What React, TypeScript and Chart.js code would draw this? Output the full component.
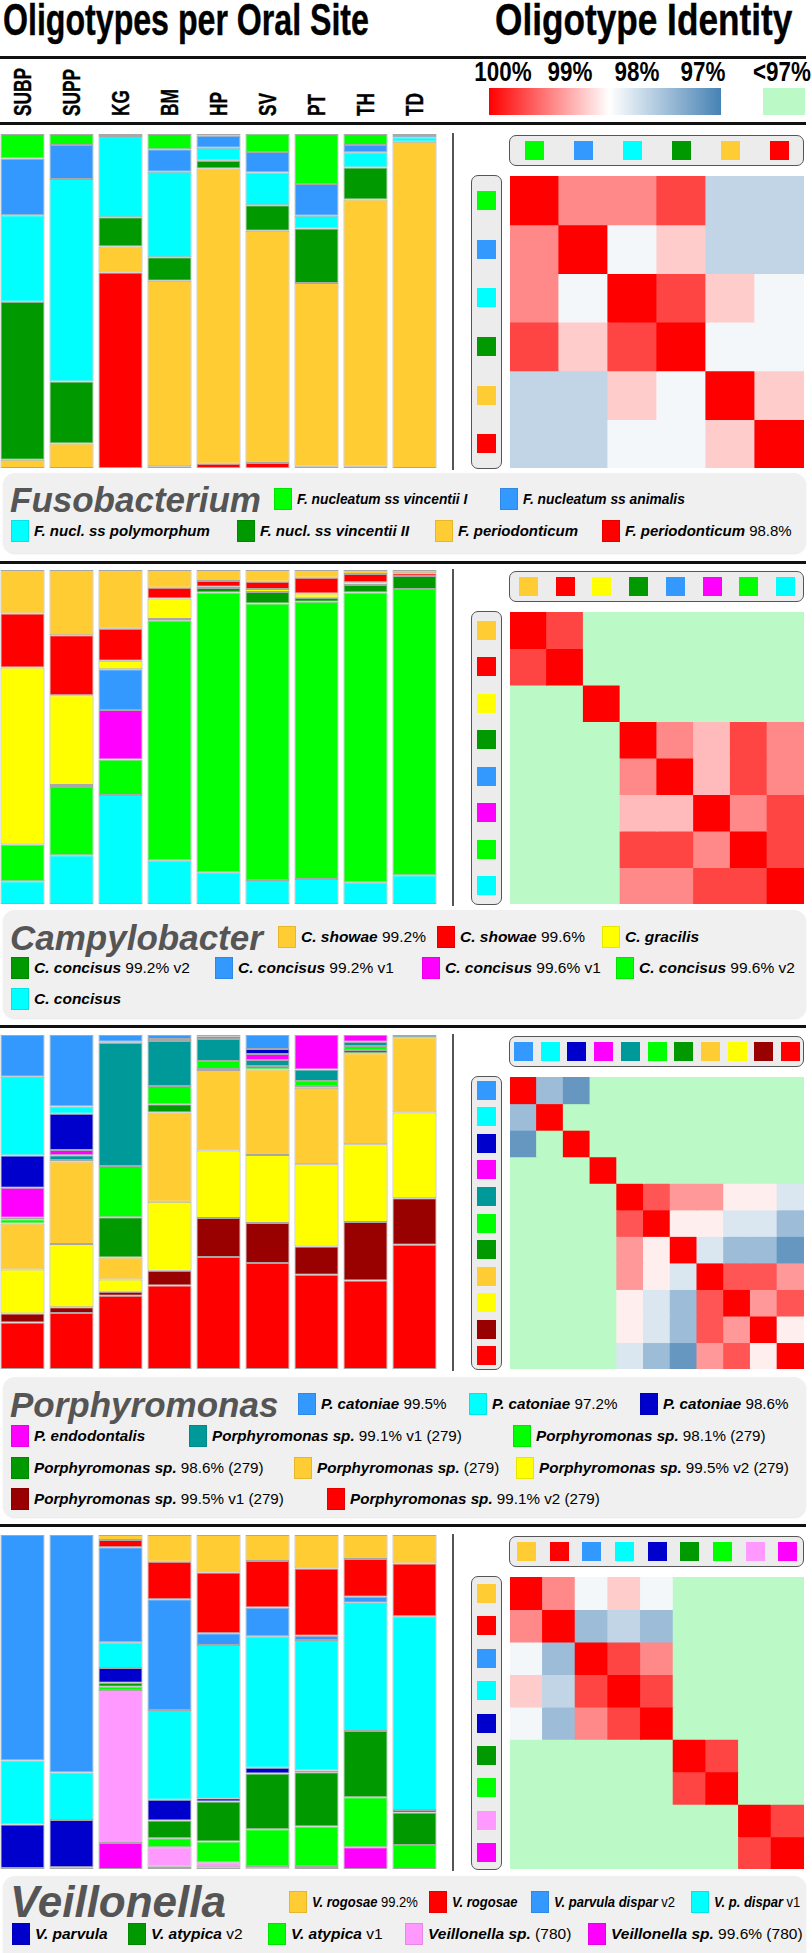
import React, { useEffect, useRef } from 'react';
import { Chart, registerables } from 'chart.js';
Chart.register(...registerables);

const SANS = '"Liberation Sans", Arial, Helvetica, sans-serif';

const SITES = ['SUBP', 'SUPP', 'KG', 'BM', 'HP', 'SV', 'PT', 'TH', 'TD'];

const GREEN = '#00ff00', BLUE = '#3399ff', CYAN = '#00ffff', DKGREEN = '#009900', ORANGE = '#ffcc33',
  RED = '#ff0000', YELLOW = '#ffff00', MAGENTA = '#ff00ff', DKBLUE = '#0000cc', TEAL = '#009999',
  DKRED = '#990000', PINK = '#ff99ff';
const BELOW97 = '#bbf9c6';

// identity scale ticks
const identityTicks = ['100%', '99%', '98%', '97%'];

// ---------------- Fusobacterium ----------------
const fusoNames = ['F. nucleatum ss vincentii I', 'F. nucleatum ss animalis', 'F. nucl. ss polymorphum', 'F. nucl. ss vincentii II', 'F. periodonticum', 'F. periodonticum'];
const fusoSuffix = ['', '', '', '', '', '98.8%'];
const fusoColors = [GREEN, BLUE, CYAN, DKGREEN, ORANGE, RED];
// % per site (SUBP..TD), top of stack first
const fusoValues = [
  [7.3, 3.3, 0, 4.6, 0.5, 5.5, 15.0, 3.3, 0.3],
  [17.0, 10.2, 0.6, 6.7, 3.6, 6.1, 9.5, 2.2, 0.7],
  [25.9, 60.6, 24.3, 25.6, 3.9, 9.8, 3.8, 4.5, 1.3],
  [47.3, 18.6, 8.8, 7.0, 2.3, 7.7, 16.3, 9.6, 0],
  [2.5, 7.3, 7.8, 55.6, 88.4, 69.5, 55.0, 80.0, 97.7],
  [0, 0, 58.5, 0.5, 1.3, 1.5, 0.4, 0.4, 0],
];
const fusoIdentity = [
  [100, 99.2, 99.2, 99.6, 98.0, 98.0],
  [99.2, 100, 98.4, 98.8, 98.0, 98.0],
  [99.2, 98.4, 100, 99.6, 98.8, 98.4],
  [99.6, 98.8, 99.6, 100, 98.4, 98.4],
  [98.0, 98.0, 98.8, 98.4, 100, 98.8],
  [98.0, 98.0, 98.4, 98.4, 98.8, 100],
];

// ---------------- Campylobacter ----------------
const campyNames = ['C. showae', 'C. showae', 'C. gracilis', 'C. concisus', 'C. concisus', 'C. concisus', 'C. concisus', 'C. concisus'];
const campySuffix = ['99.2%', '99.6%', '', '99.2% v2', '99.2% v1', '99.6% v1', '99.6% v2', ''];
const campyColors = [ORANGE, RED, YELLOW, DKGREEN, BLUE, MAGENTA, GREEN, CYAN];
const campyValues = [
  [13.0, 19.5, 17.6, 5.3, 3.3, 3.5, 2.3, 1.2, 1.0],
  [16.2, 18.0, 9.6, 3.2, 1.7, 2.2, 4.7, 2.5, 0.8],
  [53.0, 26.9, 2.5, 6.2, 0.4, 0.9, 1.3, 0.8, 0],
  [0, 0.3, 0, 0.5, 1.3, 3.4, 1.2, 2.2, 3.9],
  [0, 0, 12.2, 0, 0, 0, 0, 0, 0],
  [0, 0.3, 14.8, 0, 0, 0, 0, 0, 0],
  [11.0, 20.4, 10.7, 71.7, 83.8, 82.8, 83.0, 86.8, 85.7],
  [6.8, 14.6, 32.6, 13.1, 9.5, 7.2, 7.5, 6.5, 8.6],
];
const N = null;
const campyIdentity = [
  [100, 99.6, N, N, N, N, N, N],
  [99.6, 100, N, N, N, N, N, N],
  [N, N, 100, N, N, N, N, N],
  [N, N, N, 100, 99.2, 98.9, 99.6, 99.2],
  [N, N, N, 99.2, 100, 98.9, 99.6, 99.2],
  [N, N, N, 98.9, 98.9, 100, 99.2, 99.6],
  [N, N, N, 99.6, 99.6, 99.2, 100, 99.6],
  [N, N, N, 99.2, 99.2, 99.6, 99.6, 100],
];

// ---------------- Porphyromonas ----------------
const porphNames = ['P. catoniae', 'P. catoniae', 'P. catoniae', 'P. endodontalis', 'Porphyromonas sp.', 'Porphyromonas sp.', 'Porphyromonas sp.', 'Porphyromonas sp.', 'Porphyromonas sp.', 'Porphyromonas sp.', 'Porphyromonas sp.'];
const porphSuffix = ['99.5%', '97.2%', '98.6%', '', '99.1% v1 (279)', '98.1% (279)', '98.6% (279)', '(279)', '99.5% v2 (279)', '99.5% v1 (279)', '99.1% v2 (279)'];
const porphColors = [BLUE, CYAN, DKBLUE, MAGENTA, TEAL, GREEN, DKGREEN, ORANGE, YELLOW, DKRED, RED];
const porphValues = [
  [12.5, 21.4, 2.0, 1.2, 0.5, 4.2, 0, 0, 0],
  [23.6, 2.2, 0, 0, 0, 0, 0, 0, 0],
  [9.6, 10.8, 0.3, 0.6, 0.7, 1.5, 0, 0, 0],
  [9.0, 1.6, 0, 0, 0, 1.8, 10.3, 2.0, 0],
  [0.5, 1.4, 36.9, 13.5, 6.6, 1.8, 3.5, 1.3, 0.7],
  [1.2, 0.5, 15.4, 5.4, 2.4, 1.0, 1.5, 1.2, 0],
  [0, 0, 12.0, 2.5, 0.3, 0, 0.5, 1.0, 0],
  [13.8, 24.7, 6.6, 26.7, 24.1, 25.6, 22.9, 27.2, 22.5],
  [13.2, 18.9, 3.7, 20.7, 20.2, 20.4, 24.6, 23.3, 25.7],
  [2.7, 1.7, 1.2, 4.4, 11.7, 12.0, 8.5, 17.5, 13.9],
  [13.9, 16.8, 21.9, 25.0, 33.5, 31.7, 28.2, 26.5, 37.2],
];
const porphIdentity = [
  [100, 97.7, 97.25, N, N, N, N, N, N, N, N],
  [97.7, 100, N, N, N, N, N, N, N, N, N],
  [97.25, N, 100, N, N, N, N, N, N, N, N],
  [N, N, N, 100, N, N, N, N, N, N, N],
  [N, N, N, N, 100, 99.5, 99.1, 99.1, 98.6, 98.6, 98.2],
  [N, N, N, N, 99.5, 100, 98.6, 98.6, 98.2, 98.2, 97.7],
  [N, N, N, N, 99.1, 98.6, 100, 98.2, 97.7, 97.7, 97.25],
  [N, N, N, N, 99.1, 98.6, 98.2, 100, 99.5, 99.5, 99.1],
  [N, N, N, N, 98.6, 98.2, 97.7, 99.5, 100, 99.1, 99.5],
  [N, N, N, N, 98.6, 98.2, 97.7, 99.5, 99.1, 100, 98.6],
  [N, N, N, N, 98.2, 97.7, 97.25, 99.1, 99.5, 98.6, 100],
];

// ---------------- Veillonella ----------------
const veilNames = ['V. rogosae', 'V. rogosae', 'V. parvula dispar', 'V. p. dispar', 'V. parvula', 'V. atypica', 'V. atypica', 'Veillonella sp.', 'Veillonella sp.'];
const veilSuffix = ['99.2%', '', 'v2', 'v1', '', 'v2', 'v1', '(780)', '99.6% (780)'];
const veilColors = [ORANGE, RED, BLUE, CYAN, DKBLUE, DKGREEN, GREEN, PINK, MAGENTA];
const veilValues = [
  [0, 0, 1.5, 8.0, 11.2, 7.8, 10.0, 7.2, 8.5],
  [0, 0, 2.2, 11.2, 18.2, 13.9, 20.2, 11.3, 15.8],
  [67.5, 71.1, 28.4, 33.2, 3.5, 8.6, 1.2, 1.8, 0],
  [19.2, 14.2, 7.7, 26.9, 45.9, 39.4, 39.1, 38.4, 58.0],
  [13.0, 14.2, 4.4, 6.2, 1.0, 1.7, 0.5, 0, 0.8],
  [0, 0, 1.2, 5.3, 12.0, 16.7, 16.3, 19.8, 9.7],
  [0, 0, 1.0, 2.7, 6.2, 11.0, 11.8, 15.0, 7.2],
  [0, 0, 45.8, 5.8, 1.5, 0.7, 0.3, 0, 0],
  [0.3, 0.5, 7.8, 0.7, 0.5, 0.2, 0.6, 6.5, 0],
];
const veilIdentity = [
  [100, 99.2, 98.4, 98.8, 98.4, N, N, N, N],
  [99.2, 100, 97.7, 98.0, 97.7, N, N, N, N],
  [98.4, 97.7, 100, 99.6, 99.2, N, N, N, N],
  [98.8, 98.0, 99.6, 100, 99.6, N, N, N, N],
  [98.4, 97.7, 99.2, 99.6, 100, N, N, N, N],
  [N, N, N, N, N, 100, 99.6, N, N],
  [N, N, N, N, N, 99.6, 100, N, N],
  [N, N, N, N, N, N, N, 100, 99.6],
  [N, N, N, N, N, N, N, 99.6, 100],
];

// ---------------- layout (positions only) ----------------
const PANELS = [
  { genus: 'Fusobacterium', names: fusoNames, suffix: fusoSuffix, colors: fusoColors, values: fusoValues, identity: fusoIdentity,
    T: 134, rule: 122, boxTop: 473, boxBottom: 553, rows: [499, 531], fs: 15, titleFs: 35,
    itemX: [274, 500, 11, 237, 435, 602], itemRow: [0, 0, 1, 1, 1, 1], squeeze: [0.92, 0.92, 1, 1, 1, 1] },
  { genus: 'Campylobacter', names: campyNames, suffix: campySuffix, colors: campyColors, values: campyValues, identity: campyIdentity,
    T: 570, rule: 561, boxTop: 910, boxBottom: 1018, rows: [937, 968, 999], fs: 15.5, titleFs: 35,
    itemX: [278, 437, 602, 11, 215, 422, 616, 11], itemRow: [0, 0, 0, 1, 1, 1, 1, 2], squeeze: [1, 1, 1, 1, 1, 1, 1, 1] },
  { genus: 'Porphyromonas', names: porphNames, suffix: porphSuffix, colors: porphColors, values: porphValues, identity: porphIdentity,
    T: 1035, rule: 1025, boxTop: 1377, boxBottom: 1517, rows: [1404, 1436, 1468, 1499], fs: 15.2, titleFs: 35,
    itemX: [298, 469, 640, 11, 189, 513, 11, 294, 516, 11, 327], itemRow: [0, 0, 0, 1, 1, 1, 2, 2, 2, 3, 3], squeeze: [1, 1, 1, 1, 1, 1, 1, 1, 1, 1, 1] },
  { genus: 'Veillonella', names: veilNames, suffix: veilSuffix, colors: veilColors, values: veilValues, identity: veilIdentity,
    T: 1535, rule: 1524, boxTop: 1876, boxBottom: 1965, rows: [1902, 1934], fs: 15.5, titleFs: 44,
    itemX: [289, 429, 531, 691, 12, 128, 268, 405, 588], itemRow: [0, 0, 0, 0, 1, 1, 1, 1, 1], squeeze: [0.84, 0.84, 0.84, 0.84, 1, 1, 1, 1, 1] },
];

function idColor(v: number | null): string {
  if (v === null || v < 97) return BELOW97;
  const t = Math.min(1, Math.max(0, (100 - v) / 3));
  if (t <= 0.5) {
    const k = t / 0.5;
    const g = Math.round(255 * k);
    return `rgb(255,${g},${g})`;
  }
  const m = (t - 0.5) / 0.5;
  const r = Math.round(255 - (255 - 70) * m);
  const g = Math.round(255 - (255 - 130) * m);
  const b = Math.round(255 - (255 - 180) * m);
  return `rgb(${r},${g},${b})`;
}

function StackBars({ values, colors, left, top, width, height }: any) {
  const ref = useRef<HTMLCanvasElement>(null);
  useEffect(() => {
    const datasets = values.map((row: number[], i: number) => ({
      label: String(i),
      data: row.map((v) => (v === 0 ? null : v)),
      backgroundColor: colors[i],
      borderColor: 'rgba(110,110,110,0.6)',
      borderWidth: 1,
      borderSkipped: false,
      barPercentage: 0.9,
      categoryPercentage: 1,
    })).reverse();
    const chart = new Chart(ref.current as HTMLCanvasElement, {
      type: 'bar',
      data: { labels: SITES, datasets },
      options: {
        animation: false, responsive: false, maintainAspectRatio: false, events: [],
        layout: { padding: 0 },
        plugins: { legend: { display: false }, tooltip: { enabled: false } },
        scales: {
          x: { stacked: true, display: false },
          y: { stacked: true, display: false, min: 0, max: 100 },
        },
      },
    } as any);
    return () => chart.destroy();
  }, []);
  return <canvas ref={ref} width={width} height={height} style={{ position: 'absolute', left, top, width, height }} />;
}

function Heatmap({ identity, labels, left, top, width, height }: any) {
  const ref = useRef<HTMLCanvasElement>(null);
  useEffect(() => {
    const n = identity.length;
    const datasets = identity.map((row: (number | null)[], r: number) => ({
      label: labels[r],
      data: row.map(() => 1),
      backgroundColor: row.map((v) => idColor(v)),
      borderWidth: 0,
      barPercentage: 1,
      categoryPercentage: 1,
      inflateAmount: 0.6,
    }));
    const chart = new Chart(ref.current as HTMLCanvasElement, {
      type: 'bar',
      data: { labels: labels.map((l: string, i: number) => l + i), datasets },
      options: {
        animation: false, responsive: false, maintainAspectRatio: false, events: [],
        layout: { padding: 0 },
        plugins: { legend: { display: false }, tooltip: { enabled: false } },
        scales: {
          x: { stacked: true, display: false },
          y: { stacked: true, display: false, min: 0, max: n, reverse: true },
        },
      },
    } as any);
    return () => chart.destroy();
  }, []);
  return <canvas ref={ref} width={width} height={height} style={{ position: 'absolute', left, top, width, height }} />;
}

const abs = (s: any) => ({ position: 'absolute' as const, ...s });

function Panel({ p }: any) {
  const n = p.colors.length;
  const HL = 510, HW = 294;
  const gridTop = p.T + 42, gridH = 292;
  return (
    <>
      <div style={abs({ left: 0, top: p.rule, width: 806, height: 3, background: '#111' })} />
      <StackBars values={p.values} colors={p.colors} left={-2} top={p.T} width={441} height={334} />
      <div style={abs({ left: 452, top: p.T - 1, width: 2, height: 337, background: '#555' })} />
      {/* column key */}
      <div style={abs({ left: 509, top: p.T + 1, width: 293, height: 29, border: '1.5px solid #555', borderRadius: 7, background: '#ececec' })} />
      {p.colors.map((c: string, j: number) => (
        <div key={'t' + j} style={abs({ left: HL + (j + 0.5) * HW / n - 9.5, top: p.T + 7, width: 19, height: 19, background: c })} />
      ))}
      {/* row key */}
      <div style={abs({ left: 471, top: p.T + 41, width: 29, height: 292, border: '1.5px solid #555', borderRadius: 7, background: '#ececec' })} />
      {p.colors.map((c: string, i: number) => (
        <div key={'l' + i} style={abs({ left: 477, top: gridTop + (i + 0.5) * gridH / n - 9.5, width: 19, height: 19, background: c })} />
      ))}
      <Heatmap identity={p.identity} labels={p.names} left={HL} top={gridTop} width={HW} height={gridH} />
      {/* legend box */}
      <div style={abs({ left: 3, top: p.boxTop, width: 803, height: p.boxBottom - p.boxTop, background: '#f0f0f0', borderRadius: 12, boxShadow: '0 1px 2px rgba(0,0,0,0.10)' })} />
      <div style={abs({ left: 10, top: p.rows[0] - p.titleFs / 2, fontSize: p.titleFs, lineHeight: p.titleFs + 'px', fontWeight: 'bold', fontStyle: 'italic', color: '#555', whiteSpace: 'nowrap' })}>{p.genus}</div>
      {p.names.map((name: string, i: number) => (
        <div key={'g' + i} style={abs({ left: p.itemX[i], top: p.rows[p.itemRow[i]] - 11, height: 22, display: 'flex', alignItems: 'center', whiteSpace: 'nowrap', fontSize: p.fs, lineHeight: '22px', color: '#000' })}>
          <span style={{ display: 'inline-block', width: 18, height: 22, background: p.colors[i], marginRight: 5, boxShadow: 'inset 0 0 0 1px rgba(0,0,0,0.1)' }} />
          <span style={{ display: 'inline-block', transform: `scaleX(${p.squeeze[i]})`, transformOrigin: '0 50%' }}>
            <span style={{ fontWeight: 'bold', fontStyle: 'italic' }}>{name}</span>
            {p.suffix[i] ? ' ' + p.suffix[i] : null}
          </span>
        </div>
      ))}
    </>
  );
}

const tickX = [503, 570, 637, 703];

export default function App() {
  const head = { fontWeight: 'bold', whiteSpace: 'nowrap', transformOrigin: '0 0', WebkitTextStroke: '0.4px #000' };
  return (
    <div style={{ position: 'absolute', left: 0, top: 0, width: 812, height: 1953, background: '#fff', fontFamily: SANS, overflow: 'hidden', color: '#000' }}>
      <div style={abs({ ...head, left: 3, top: -2, fontSize: 44, lineHeight: '44px', transform: 'scaleX(0.73)' })}>Oligotypes per Oral Site</div>
      <div style={abs({ ...head, left: 495, top: -2, fontSize: 44, lineHeight: '44px', transform: 'scaleX(0.8)' })}>Oligotype Identity</div>
      <div style={abs({ left: 0, top: 56, width: 806, height: 3, background: '#111' })} />
      {SITES.map((s, i) => (
        <div key={s} style={abs({ ...head, left: 22.5 + 49 * i - 12, top: 116, transform: 'rotate(-90deg) scaleX(0.72)', fontSize: 24, lineHeight: '24px' })}>{s}</div>
      ))}
      {identityTicks.map((t, i) => (
        <div key={t} style={abs({ left: tickX[i], top: 58, transform: 'translateX(-50%) scaleX(0.8)', fontSize: 28, lineHeight: '28px', fontWeight: 'bold', whiteSpace: 'nowrap' })}>{t}</div>
      ))}
      <div style={abs({ left: 782, top: 58, transform: 'translateX(-50%) scaleX(0.8)', fontSize: 28, lineHeight: '28px', fontWeight: 'bold', whiteSpace: 'nowrap' })}>{'<97%'}</div>
      <div style={abs({ left: 489, top: 88, width: 232, height: 27, background: 'linear-gradient(to right, #ff0000 0%, #ffffff 52%, #4682b4 100%)' })} />
      <div style={abs({ left: 763, top: 88, width: 42, height: 27, background: BELOW97 })} />
      {PANELS.map((p) => <Panel key={p.genus} p={p} />)}
    </div>
  );
}
